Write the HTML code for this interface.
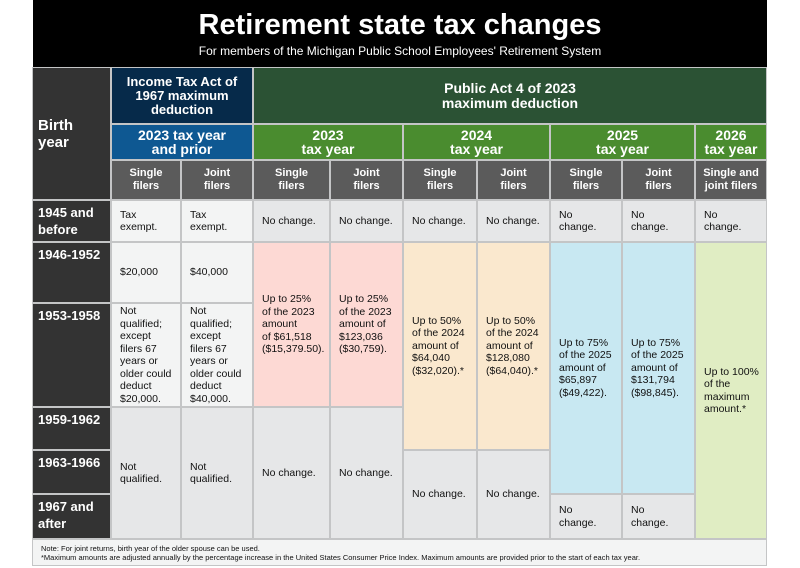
<!DOCTYPE html>
<html><head><meta charset="utf-8"><style>
body{margin:0;width:800px;height:568px;background:#fff;position:relative;overflow:hidden;font-family:"Liberation Sans",sans-serif;}
.c{position:absolute;box-sizing:border-box;display:flex;align-items:center;font-size:10.5px;line-height:12.5px;color:#111;padding:0 0 0 8px;border:1px solid #c4c5c6;white-space:nowrap;overflow:hidden;}
.h{color:#fff;font-weight:bold;justify-content:center;text-align:center;padding:0;}
.b{color:#fff;font-weight:bold;font-size:13px;line-height:17px;background:#333;align-items:flex-start;padding-top:3px;padding-left:5px;}
.lt{background:#f3f4f4}.gy{background:#e6e7e8}.pk{background:#fdd9d4}.or{background:#fae8ce}.bl{background:#c8e8f2}.gr{background:#e0edc3}
.sh{background:#5b5b5b;font-size:11px;line-height:13px;}
</style></head><body>
<div style="position:absolute;left:33px;top:0;width:734px;height:67px;background:#000;color:#fff;text-align:center;">
<div style="font-weight:bold;font-size:29px;line-height:32px;margin-top:9px;">Retirement state tax changes</div>
<div style="font-size:12px;margin-top:3px;">For members of the Michigan Public School Employees' Retirement System</div>
</div>
<div class="c b" style="left:32px;top:67px;width:79px;height:133px;align-items:center;font-size:15px;line-height:17px;padding-top:0">Birth<br>year</div>
<div class="c h" style="left:111px;top:67px;width:142px;height:57px;background:#062a4a;font-size:13px;line-height:14px;">Income Tax Act of<br>1967 maximum<br>deduction</div>
<div class="c h" style="left:253px;top:67px;width:514px;height:57px;background:#2b5234;font-size:14px;line-height:15px;">Public Act 4 of 2023<br>maximum deduction</div>
<div class="c h" style="left:111px;top:124px;width:142px;height:36px;background:#0e5892;font-size:14px;line-height:14px;">2023 tax year<br>and prior</div>
<div class="c h" style="left:253px;top:124px;width:150px;height:36px;background:#4a8c2f;font-size:14px;line-height:14px;">2023<br>tax year</div>
<div class="c h" style="left:403px;top:124px;width:147px;height:36px;background:#4a8c2f;font-size:14px;line-height:14px;">2024<br>tax year</div>
<div class="c h" style="left:550px;top:124px;width:145px;height:36px;background:#4a8c2f;font-size:14px;line-height:14px;">2025<br>tax year</div>
<div class="c h" style="left:695px;top:124px;width:72px;height:36px;background:#4a8c2f;font-size:14px;line-height:14px;">2026<br>tax year</div>
<div class="c h sh" style="left:111px;top:160px;width:70px;height:40px;">Single<br>filers</div>
<div class="c h sh" style="left:181px;top:160px;width:72px;height:40px;">Joint<br>filers</div>
<div class="c h sh" style="left:253px;top:160px;width:77px;height:40px;">Single<br>filers</div>
<div class="c h sh" style="left:330px;top:160px;width:73px;height:40px;">Joint<br>filers</div>
<div class="c h sh" style="left:403px;top:160px;width:74px;height:40px;">Single<br>filers</div>
<div class="c h sh" style="left:477px;top:160px;width:73px;height:40px;">Joint<br>filers</div>
<div class="c h sh" style="left:550px;top:160px;width:72px;height:40px;">Single<br>filers</div>
<div class="c h sh" style="left:622px;top:160px;width:73px;height:40px;">Joint<br>filers</div>
<div class="c h sh" style="left:695px;top:160px;width:72px;height:40px;">Single and<br>joint filers</div>

<div class="c b" style="left:32px;top:200px;width:79px;height:42px;">1945 and<br>before</div>
<div class="c b" style="left:32px;top:242px;width:79px;height:61px;">1946-1952</div>
<div class="c b" style="left:32px;top:303px;width:79px;height:104px;">1953-1958</div>
<div class="c b" style="left:32px;top:407px;width:79px;height:43px;">1959-1962</div>
<div class="c b" style="left:32px;top:450px;width:79px;height:44px;">1963-1966</div>
<div class="c b" style="left:32px;top:494px;width:79px;height:45px;">1967 and<br>after</div>

<div class="c lt" style="left:111px;top:200px;width:70px;height:42px;">Tax<br>exempt.</div>
<div class="c lt" style="left:181px;top:200px;width:72px;height:42px;">Tax<br>exempt.</div>
<div class="c gy" style="left:253px;top:200px;width:77px;height:42px;">No change.</div>
<div class="c gy" style="left:330px;top:200px;width:73px;height:42px;">No change.</div>
<div class="c gy" style="left:403px;top:200px;width:74px;height:42px;">No change.</div>
<div class="c gy" style="left:477px;top:200px;width:73px;height:42px;">No change.</div>
<div class="c gy" style="left:550px;top:200px;width:72px;height:42px;">No<br>change.</div>
<div class="c gy" style="left:622px;top:200px;width:73px;height:42px;">No<br>change.</div>
<div class="c gy" style="left:695px;top:200px;width:72px;height:42px;">No<br>change.</div>

<div class="c lt" style="left:111px;top:242px;width:70px;height:61px;">$20,000</div>
<div class="c lt" style="left:181px;top:242px;width:72px;height:61px;">$40,000</div>
<div class="c lt" style="left:111px;top:303px;width:70px;height:104px;">Not<br>qualified;<br>except<br>filers 67<br>years or<br>older could<br>deduct<br>$20,000.</div>
<div class="c lt" style="left:181px;top:303px;width:72px;height:104px;">Not<br>qualified;<br>except<br>filers 67<br>years or<br>older could<br>deduct<br>$40,000.</div>
<div class="c gy" style="left:111px;top:407px;width:70px;height:132px;">Not<br>qualified.</div>
<div class="c gy" style="left:181px;top:407px;width:72px;height:132px;">Not<br>qualified.</div>

<div class="c pk" style="left:253px;top:242px;width:77px;height:165px;">Up to 25%<br>of the 2023<br>amount<br>of $61,518<br>($15,379.50).</div>
<div class="c pk" style="left:330px;top:242px;width:73px;height:165px;">Up to 25%<br>of the 2023<br>amount of<br>$123,036<br>($30,759).</div>
<div class="c gy" style="left:253px;top:407px;width:77px;height:132px;">No change.</div>
<div class="c gy" style="left:330px;top:407px;width:73px;height:132px;">No change.</div>

<div class="c or" style="left:403px;top:242px;width:74px;height:208px;">Up to 50%<br>of the 2024<br>amount of<br>$64,040<br>($32,020).*</div>
<div class="c or" style="left:477px;top:242px;width:73px;height:208px;">Up to 50%<br>of the 2024<br>amount of<br>$128,080<br>($64,040).*</div>
<div class="c gy" style="left:403px;top:450px;width:74px;height:89px;">No change.</div>
<div class="c gy" style="left:477px;top:450px;width:73px;height:89px;">No change.</div>

<div class="c bl" style="left:550px;top:242px;width:72px;height:252px;">Up to 75%<br>of the 2025<br>amount of<br>$65,897<br>($49,422).</div>
<div class="c bl" style="left:622px;top:242px;width:73px;height:252px;">Up to 75%<br>of the 2025<br>amount of<br>$131,794<br>($98,845).</div>
<div class="c gy" style="left:550px;top:494px;width:72px;height:45px;">No<br>change.</div>
<div class="c gy" style="left:622px;top:494px;width:73px;height:45px;">No<br>change.</div>

<div class="c gr" style="left:695px;top:242px;width:72px;height:297px;">Up to 100%<br>of the<br>maximum<br>amount.*</div>

<div class="c lt" style="left:32px;top:539px;width:735px;height:27px;font-size:7.5px;line-height:9px;">Note: For joint returns, birth year of the older spouse can be used.<br>*Maximum amounts are adjusted annually by the percentage increase in the United States Consumer Price Index. Maximum amounts are provided prior to the start of each tax year.</div>
</body></html>
